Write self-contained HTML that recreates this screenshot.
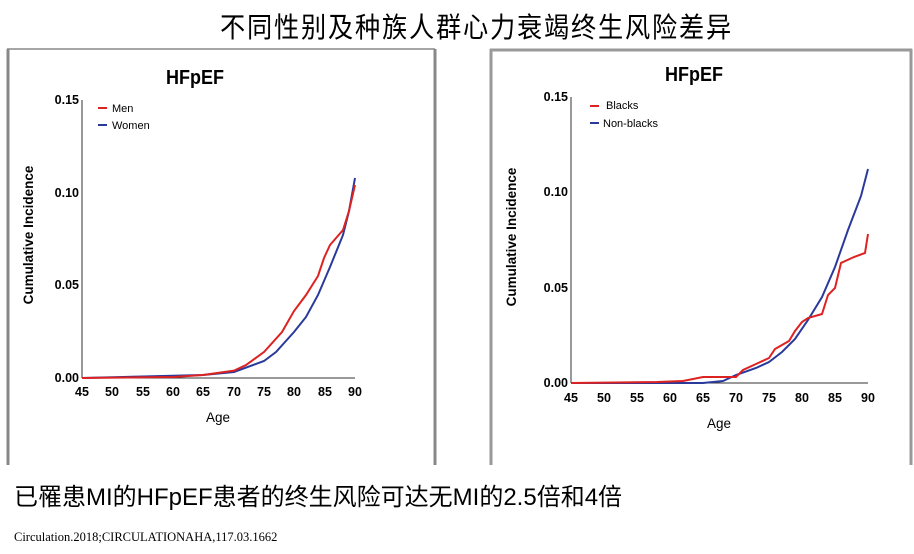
<!DOCTYPE html>
<html><head><meta charset="utf-8"><style>
body{margin:0;width:914px;height:554px;background:#fff;overflow:hidden;position:relative;font-family:"Liberation Sans","Noto Sans CJK SC",sans-serif}
.t{position:absolute;white-space:nowrap}
</style></head><body>
<div class="t" style="left:220px;top:8px;font-size:28px;letter-spacing:2px;font-family:'Noto Sans CJK SC',sans-serif;line-height:36px;transform:scaleX(0.9);transform-origin:0 0;">不同性别及种族人群心力衰竭终生风险差异</div>
<svg width="914" height="554" style="position:absolute;left:0;top:0" font-family="Liberation Sans, sans-serif">
<line x1="7" y1="49" x2="435" y2="49" stroke="#888" stroke-width="1.5"/>
<line x1="8" y1="49" x2="8" y2="465" stroke="#888" stroke-width="3"/>
<line x1="435" y1="49" x2="435" y2="465" stroke="#888" stroke-width="3"/>
<line x1="490" y1="50" x2="912" y2="50" stroke="#999" stroke-width="3"/>
<line x1="491" y1="49" x2="491" y2="465" stroke="#999" stroke-width="3"/>
<line x1="911" y1="49" x2="911" y2="465" stroke="#999" stroke-width="3"/>

<!-- LEFT CHART -->
<text x="195" y="84" font-size="20" font-weight="bold" text-anchor="middle" transform="translate(195,0) scale(0.9,1) translate(-195,0)">HFpEF</text>
<line x1="82" y1="100" x2="82" y2="378" stroke="#333"/>
<line x1="82" y1="378" x2="355" y2="378" stroke="#333"/>
<g font-size="12.5" font-weight="bold" text-anchor="end">
<text x="79" y="104">0.15</text><text x="79" y="197">0.10</text><text x="79" y="289">0.05</text><text x="79" y="382">0.00</text></g>
<g font-size="12.5" font-weight="bold" text-anchor="middle">
<text x="82" y="396">45</text><text x="112" y="396">50</text><text x="143" y="396">55</text><text x="173" y="396">60</text><text x="203" y="396">65</text><text x="234" y="396">70</text><text x="264" y="396">75</text><text x="294" y="396">80</text><text x="325" y="396">85</text><text x="355" y="396">90</text></g>
<text x="218" y="422" font-size="13.5" text-anchor="middle">Age</text>
<text transform="translate(33,235) rotate(-90)" font-size="13.5" font-weight="bold" text-anchor="middle">Cumulative Incidence</text>
<line x1="98" y1="108" x2="107" y2="108" stroke="#d22" stroke-width="2"/><text x="112" y="112" font-size="11">Men</text>
<line x1="98" y1="125" x2="107" y2="125" stroke="#2a3a9a" stroke-width="2"/><text x="112" y="129" font-size="11">Women</text>
<polyline fill="none" stroke="#2a3a9a" stroke-width="2" points="82,378 203,375 234,372 264,361 276,352 294,332 306,317 318,295 330,267 343,235 349,211 355,178"/>
<polyline fill="none" stroke="#d22" stroke-width="2" points="82,378 173,377 203,375 234,370.6 246,365 264,352 282,332 294,311 306,295 318,276 324,258 330,245 343,230 349,211 355,185"/>

<!-- RIGHT CHART -->
<text x="694" y="81" font-size="20" font-weight="bold" text-anchor="middle" transform="translate(694,0) scale(0.9,1) translate(-694,0)">HFpEF</text>
<line x1="571" y1="97" x2="571" y2="383" stroke="#333"/>
<line x1="571" y1="383" x2="868" y2="383" stroke="#333"/>
<g font-size="12.5" font-weight="bold" text-anchor="end">
<text x="568" y="101">0.15</text><text x="568" y="196">0.10</text><text x="568" y="292">0.05</text><text x="568" y="387">0.00</text></g>
<g font-size="12.5" font-weight="bold" text-anchor="middle">
<text x="571" y="402">45</text><text x="604" y="402">50</text><text x="637" y="402">55</text><text x="670" y="402">60</text><text x="703" y="402">65</text><text x="736" y="402">70</text><text x="769" y="402">75</text><text x="802" y="402">80</text><text x="835" y="402">85</text><text x="868" y="402">90</text></g>
<text x="719" y="428" font-size="13.5" text-anchor="middle">Age</text>
<text transform="translate(516,237) rotate(-90)" font-size="13.5" font-weight="bold" text-anchor="middle">Cumulative Incidence</text>
<line x1="590" y1="106" x2="599" y2="106" stroke="#d22" stroke-width="2"/><text x="606" y="109" font-size="11">Blacks</text>
<line x1="590" y1="123" x2="599" y2="123" stroke="#2a3a9a" stroke-width="2"/><text x="603" y="127" font-size="11">Non-blacks</text>
<polyline fill="none" stroke="#2a3a9a" stroke-width="2" points="571,383 703,383 723,381 736,375 756,368 769,362 782,352 795,339 808,320 822,297 835,267 848,230 861,196 868,169"/>
<polyline fill="none" stroke="#d22" stroke-width="2" points="571,383 657,382 683,381 703,377 736,377 743,370 756,364 769,358 775,349 789,341 795,331 802,322 808,318 822,314 828,295 835,288 841,263 854,257 865,253 868,234"/>
</svg>
<div class="t" style="left:14px;top:482px;font-size:24px;line-height:32px;">已罹患MI的HFpEF患者的终生风险可达无MI的2.5倍和4倍</div>
<div class="t" style="left:14px;top:530px;font-size:12.5px;font-family:'Liberation Serif',serif;">Circulation.2018;CIRCULATIONAHA,117.03.1662</div>
</body></html>
